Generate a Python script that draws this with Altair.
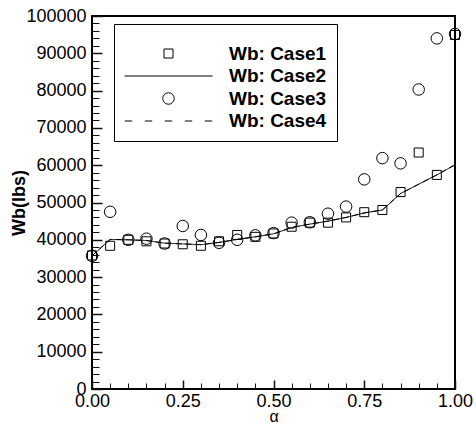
import altair as alt
import pandas as pd

FONT = "Arial"

# ---- data ----
alpha = [0.00, 0.05, 0.10, 0.15, 0.20, 0.25, 0.30, 0.35, 0.40, 0.45, 0.50,
         0.55, 0.60, 0.65, 0.70, 0.75, 0.80, 0.85, 0.90, 0.95, 1.00]
case1 = [35800, 38400, 40000, 39600, 39000, 38800, 38400, 39600, 41300, 40800, 41700,
         43500, 44600, 44600, 46000, 47400, 48000, 52800, 63400, 57400, 94900]
case2 = [35700, 40100, 40000, 39800, 39100, 38900, 38700, 39300, 40100, 40800, 41600,
         43300, 44200, 45000, 46000, 47200, 48000, 52400, 54900, 57400, 60100]
case3 = [35700, 47500, 40000, 40300, 39000, 43700, 41300, 39200, 40000, 41200, 41800,
         44600, 44700, 47000, 48900, 56200, 61900, 60500, 80300, 94000, 95200]
case4 = [35700, 40100, 40000, 39800, 39100, 38900, 38700, 39300, 40100, 40800, 41600,
         43300, 44200, 45000, 46000, 47200, 48000, 52400, 54900, 57400, 60100]

series_names = ["Wb: Case1", "Wb: Case2", "Wb: Case3", "Wb: Case4"]
x_label_values = [0.0, 0.25, 0.5, 0.75, 1.0]
y_label_values = [0, 10000, 20000, 30000, 40000, 50000, 60000, 70000, 80000, 90000, 100000]
x_minor_values = [0.05, 0.10, 0.15, 0.20, 0.30, 0.35, 0.40, 0.45, 0.55, 0.60,
                  0.65, 0.70, 0.80, 0.85, 0.90, 0.95]
y_minor_values = [v for v in range(0, 100001, 2000) if v % 10000 != 0]

# ---- tables ----
points_df = pd.concat([
    pd.DataFrame({"alpha": alpha, "value": case1, "series": series_names[0]}),
    pd.DataFrame({"alpha": alpha, "value": case3, "series": series_names[2]}),
])
lines_df = pd.concat([
    pd.DataFrame({"alpha": alpha, "value": case2, "series": series_names[1]}),
    pd.DataFrame({"alpha": alpha, "value": case4, "series": series_names[3]}),
])
frame_df = pd.DataFrame({"alpha": [0.0, 1.0], "value": [0, 100000]})

W, H = 363, 373

xscale = alt.Scale(domain=[0, 1], nice=False, zero=False)
yscale = alt.Scale(domain=[0, 100000], nice=False)

x_main = alt.X("alpha:Q", scale=xscale, axis=alt.Axis(
    values=x_label_values, format=".2f", ticks=False, domain=False, grid=False,
    labelFont=FONT, labelFontSize=18, labelColor="black", labelPadding=3,
    labelFlush=False, labelOverlap=False,
    title="α", titleFont=FONT, titleFontSize=16, titleFontWeight="normal",
    titleColor="black", titleY=32, titleBaseline="alphabetic"))
y_main = alt.Y("value:Q", scale=yscale, axis=alt.Axis(
    values=y_label_values, format="d", ticks=False, domain=False, grid=False,
    labelFont=FONT, labelFontSize=18, labelColor="black", labelPadding=6,
    labelOverlap=False, labelFlush=False,
    title="Wb(lbs)", titleFont=FONT, titleFontSize=18, titleFontWeight="bold",
    titleColor="black", titleX=-73, titleBaseline="middle"))

shape_range = [
    "M-0.9,-0.9H0.9V0.9H-0.9Z",
    "M-8.8,0H8.8",
    "M-1.15,0A1.15,1.15,0,1,1,1.15,0A1.15,1.15,0,1,1,-1.15,0Z",
    "M-8.74,0H-7.26M-4.74,0H-3.26M-0.74,0H0.74M3.26,0H4.74M7.26,0H8.74",
]

legend = alt.Legend(
    title=" ", titleFontSize=10, titlePadding=0, orient="none", legendX=22, legendY=8,
    direction="vertical",
    fillColor="white", strokeColor="black", padding=10,
    cornerRadius=0, labelFont=FONT, labelFontSize=19, labelFontWeight="bold",
    labelColor="black", symbolSize=100, symbolStrokeColor="black",
    symbolStrokeWidth=1, symbolFillColor="transparent",
    symbolOffset=35, labelOffset=51, rowPadding=2.5)

lines = alt.Chart(lines_df).mark_line(color="black", strokeWidth=1).encode(
    x=x_main, y=y_main,
    strokeDash=alt.StrokeDash("series:N", scale=alt.Scale(
        domain=[series_names[1], series_names[3]], range=[[1, 0], [6, 4]]), legend=None),
)

points = alt.Chart(points_df).mark_point(
    filled=False, size=100, color="black", strokeWidth=1, opacity=1).encode(
    x=x_main, y=y_main,
    shape=alt.Shape("series:N", scale=alt.Scale(domain=series_names, range=shape_range),
                    legend=legend),
)


def tick_layer(xvals, yvals, xsize, ysize, width):
    common = dict(labels=True, labelOpacity=0, labelFontSize=1, domain=False,
                  grid=False, title=None, tickColor="#111111", tickOpacity=1,
                  ticks=True, tickWidth=width, zindex=2)
    return alt.Chart(frame_df).mark_point(opacity=0).encode(
        x=alt.X("alpha:Q", scale=xscale, axis=alt.Axis(
            orient="top", offset=-H, values=xvals, tickSize=xsize, **common)),
        y=alt.Y("value:Q", scale=yscale, axis=alt.Axis(
            orient="right", offset=-W, values=yvals, tickSize=ysize, **common)),
    )


major_ticks = tick_layer(x_label_values, y_label_values, 9, 10, 1.5)
minor_ticks = tick_layer(x_minor_values, y_minor_values, 6, 7, 1)

chart = alt.layer(alt.layer(lines, points), major_ticks, minor_ticks).resolve_scale(
    x="independent", y="independent"
).properties(
    width=W, height=H,
    padding={"left": 92, "top": 16, "right": 21, "bottom": 38},
    autosize=alt.AutoSizeParams(type="none"),
    background="white",
).configure_view(stroke="black", strokeWidth=2)

chart.save("out.html", embed_options={"renderer": "svg", "actions": False})
